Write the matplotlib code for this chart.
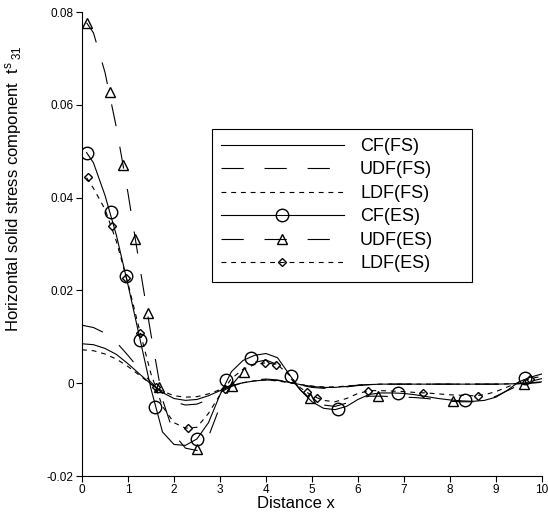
import matplotlib
matplotlib.use('Agg')
import matplotlib.pyplot as plt
from matplotlib.lines import Line2D

plt.rcParams['font.family'] = ['Liberation Sans', 'DejaVu Sans']
plt.rcParams['mathtext.fontset'] = 'custom'
plt.rcParams['mathtext.rm'] = 'Liberation Sans'
plt.rcParams['mathtext.it'] = 'Liberation Sans'
plt.rcParams['lines.scale_dashes'] = False

# free-surface (FS) curves, sampled along x
x_fs = [0, 0.25, 0.5, 0.75, 1.0, 1.25, 1.5, 1.75, 2.0, 2.25, 2.5, 2.75, 3.0, 3.25, 3.5, 3.75,
        4.0, 4.25, 4.5, 4.75, 5.0, 5.25, 5.5, 5.75, 6.0, 6.25, 6.5, 7.0, 7.5, 8.0, 8.5, 9.0,
        9.5, 9.75, 10.0]
cf_fs = [0.0085, 0.0083, 0.0075, 0.0062, 0.0042, 0.0020, -0.0002, -0.0020, -0.0033, -0.0037,
         -0.0035, -0.0027, -0.0016, -0.0006, 0.0001, 0.0005, 0.0007, 0.0006, 0.0002, -0.0003,
         -0.0007, -0.0009, -0.0009, -0.0007, -0.0004, -0.0003, -0.0002, -0.0002, -0.0002,
         -0.0002, -0.0002, -0.0002, -0.0001, 0.0001, 0.0003]
udf_fs = [0.0125, 0.0120, 0.0108, 0.0088, 0.0060, 0.0030, 0.0002, -0.0022, -0.0040, -0.0047,
          -0.0045, -0.0035, -0.0020, -0.0007, 0.0002, 0.0007, 0.0009, 0.0007, 0.0002, -0.0004,
          -0.0009, -0.0011, -0.0011, -0.0008, -0.0005, -0.0003, -0.0002, -0.0002, -0.0002,
          -0.0002, -0.0002, -0.0002, -0.0001, 0.0000, 0.0002]
ldf_fs = [0.0072, 0.0070, 0.0063, 0.0052, 0.0036, 0.0017, -0.0002, -0.0017, -0.0027, -0.0030,
          -0.0029, -0.0023, -0.0014, -0.0005, 0.0001, 0.0005, 0.0007, 0.0005, 0.0001, -0.0003,
          -0.0006, -0.0008, -0.0008, -0.0006, -0.0004, -0.0003, -0.0002, -0.0002, -0.0002,
          -0.0002, -0.0002, -0.0002, -0.0001, 0.0001, 0.0002]

# elastic-solid (ES) curves, sampled along x
x_es = [0.1, 0.25, 0.5, 0.75, 1.0, 1.25, 1.5, 1.75, 2.0, 2.25, 2.5, 2.75, 3.0, 3.25, 3.5, 3.75,
        4.0, 4.25, 4.5, 4.75, 5.0, 5.25, 5.5, 5.75, 6.0, 6.25, 6.5, 6.75, 7.0, 7.25, 7.5, 7.75,
        8.0, 8.25, 8.5, 8.75, 9.0, 9.25, 9.5, 9.75, 10.0]
cf_es = [0.0497, 0.0475, 0.0405, 0.0318, 0.0212, 0.0100, -0.0012, -0.0105, -0.0132, -0.0134,
         -0.0120, -0.0085, -0.0025, 0.0025, 0.0049, 0.0060, 0.0064, 0.0055, 0.0020, -0.0015,
         -0.0040, -0.0054, -0.0057, -0.0050, -0.0035, -0.0024, -0.0021, -0.0021, -0.0022,
         -0.0025, -0.0029, -0.0033, -0.0036, -0.0038, -0.0039, -0.0037, -0.0030, -0.0015,
         0.0003, 0.0013, 0.0020]
udf_es = [0.0777, 0.0755, 0.0670, 0.0550, 0.0410, 0.0255, 0.0105, -0.0035, -0.0110, -0.0140,
          -0.0145, -0.0115, -0.0050, -0.0005, 0.0025, 0.0045, 0.0050, 0.0040, 0.0015, -0.0015,
          -0.0035, -0.0047, -0.0050, -0.0043, -0.0033, -0.0028, -0.0028, -0.0029, -0.0030,
          -0.0031, -0.0033, -0.0036, -0.0039, -0.0040, -0.0040, -0.0036, -0.0028, -0.0016,
          -0.0004, 0.0004, 0.0010]
ldf_es = [0.0443, 0.0420, 0.0375, 0.0305, 0.0215, 0.0115, 0.0020, -0.0050, -0.0085, -0.0097,
          -0.0095, -0.0065, -0.0025, 0.0010, 0.0030, 0.0040, 0.0044, 0.0040, 0.0018, -0.0010,
          -0.0027, -0.0037, -0.0040, -0.0033, -0.0022, -0.0016, -0.0016, -0.0017, -0.0018,
          -0.0020, -0.0021, -0.0023, -0.0025, -0.0026, -0.0027, -0.0025, -0.0018, -0.0008,
          0.0002, 0.0010, 0.0015]

# symbol positions on the ES curves
cf_mx = [0.1, 0.63, 0.96, 1.27, 1.59, 2.5, 3.13, 3.67, 4.54, 5.56, 6.88, 8.33, 9.63]
cf_my = [0.0497, 0.0368, 0.0230, 0.0094, -0.0052, -0.0120, 0.0006, 0.0055, 0.0015, -0.0056,
         -0.0021, -0.0037, 0.0011]
udf_mx = [0.1, 0.61, 0.9, 1.16, 1.43, 1.68, 2.5, 3.27, 3.53, 4.96, 6.44, 8.06, 9.61]
udf_my = [0.0777, 0.0627, 0.0470, 0.0311, 0.0152, -0.0009, -0.0142, -0.0005, 0.0024, -0.0032,
          -0.0028, -0.0039, -0.0001]
ldf_mx = [0.12, 0.65, 0.96, 1.27, 1.6, 2.3, 3.1, 3.98, 4.22, 4.9, 5.1, 6.21, 7.41, 8.62, 9.74]
ldf_my = [0.0444, 0.0338, 0.0227, 0.0108, -0.0008, -0.0096, -0.0012, 0.0044, 0.0040, -0.0019,
          -0.0032, -0.0016, -0.0021, -0.0027, 0.0010]

labels = ['CF(FS)', 'UDF(FS)', 'LDF(FS)', 'CF(ES)', 'UDF(ES)', 'LDF(ES)']

long_dash = (0, (16, 15))
short_dash = (0, (3.5, 3.5))
lw = 0.8

fig = plt.figure(figsize=(5.48, 5.16), dpi=100)
ax = fig.add_axes([0.1496, 0.0775, 0.8394, 0.8992])

ax.plot(x_fs, cf_fs, color='k', lw=lw, ls='-')
ax.plot(x_fs, udf_fs, color='k', lw=lw, ls=long_dash)
ax.plot(x_fs, ldf_fs, color='k', lw=lw, ls=short_dash)

ax.plot(x_es, cf_es, color='k', lw=lw, ls='-')
ax.plot(x_es, udf_es, color='k', lw=lw, ls=long_dash)
ax.plot(x_es, ldf_es, color='k', lw=lw, ls=short_dash)

ax.plot(cf_mx, cf_my, ls='none', marker='o', ms=9, mfc='none', mec='k', mew=1.0)
ax.plot(udf_mx, udf_my, ls='none', marker='^', ms=7, mfc='none', mec='k', mew=1.0)
ax.plot(ldf_mx, ldf_my, ls='none', marker='D', ms=4, mfc='none', mec='k', mew=1.0)

handles = [
    Line2D([], [], color='k', lw=lw, ls='-'),
    Line2D([], [], color='k', lw=lw, ls=long_dash),
    Line2D([], [], color='k', lw=lw, ls=short_dash),
    Line2D([], [], color='k', lw=lw, ls='-', marker='o', ms=9, mfc='none', mew=1.0),
    Line2D([], [], color='k', lw=lw, ls=long_dash, marker='^', ms=7, mfc='none', mew=1.0),
    Line2D([], [], color='k', lw=lw, ls=short_dash, marker='D', ms=4, mfc='none', mew=1.0),
]
leg = ax.legend(handles, labels, loc='upper left', mode='expand',
                bbox_to_anchor=(0.2826, 0.0, 0.5652, 0.748), borderaxespad=0,
                fontsize=13, handlelength=6.8, numpoints=1, fancybox=False,
                edgecolor='k', framealpha=1, borderpad=0.5, labelspacing=0.36,
                handletextpad=0.9)
leg.get_frame().set_linewidth(0.8)

ax.set_xlim(0, 10)
ax.set_ylim(-0.02, 0.08)
ax.set_xticks([0, 1, 2, 3, 4, 5, 6, 7, 8, 9, 10])
ax.set_yticks([-0.02, 0, 0.02, 0.04, 0.06, 0.08])
ax.set_yticklabels(['-0.02', '0', '0.02', '0.04', '0.06', '0.08'])
ax.tick_params(direction='out', length=4, width=0.8, labelsize=8.5, colors='k', pad=2)
ax.spines['top'].set_visible(False)
ax.spines['right'].set_visible(False)
ax.spines['left'].set_linewidth(0.8)
ax.spines['bottom'].set_linewidth(0.8)

ax.set_xlabel('Distance x', fontsize=12)
ax.xaxis.set_label_coords(0.465, -0.043)
ax.set_ylabel(r'Horizontal solid stress component  t$^{\mathrm{s}}\,_{\mathrm{31}}$', fontsize=12)
ax.yaxis.set_label_coords(-0.126, 0.62)

fig.savefig('out.png', dpi=100)
